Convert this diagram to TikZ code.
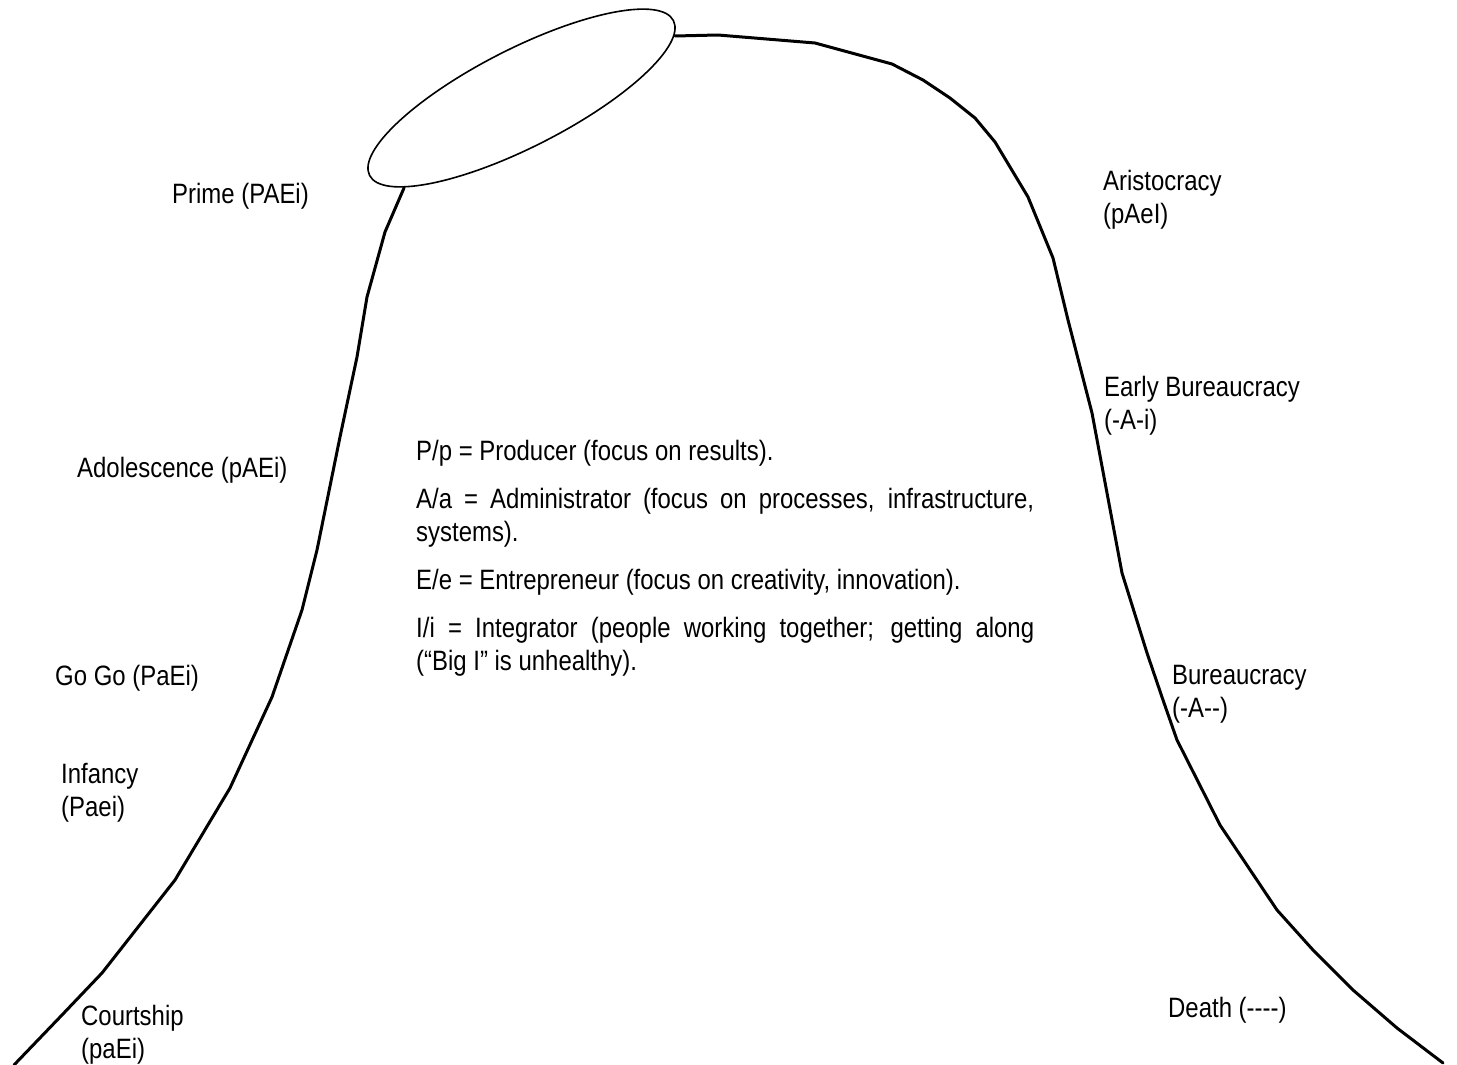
\documentclass[tikz,border=0pt]{standalone}
\usepackage{fontspec}
\setmainfont{Liberation Sans}[FakeStretch=0.855, Ligatures=TeXOff]
\begin{document}
\begin{tikzpicture}[x=1pt,y=-1pt,
  lbl/.style={anchor=west,inner sep=0pt,align=left,font=\fontsize{28}{33}\selectfont},
  curve/.style={line width=3pt,line join=round,line cap=round},
  ring/.style={line width=1.6pt}]
\useasboundingbox (0,0) rectangle (1457,1065);
% life-cycle curve
\draw[curve] (14,1065) -- (62,1015) -- (102,973) -- (175,880) -- (230,788) -- (272,697)
  -- (302,610) -- (317,550) -- (340,437) -- (357,357) -- (367,297) -- (385,232) -- (404,188);
\draw[curve] (675,36) -- (718,35) -- (815,43) -- (892,64) -- (923,80) -- (950,98)
  -- (975,118) -- (995,142) -- (1028,197) -- (1053,258) -- (1068,320) -- (1092,413)
  -- (1122,573) -- (1147,653) -- (1163,700) -- (1177,740) -- (1220,825) -- (1277,910)
  -- (1313,950) -- (1353,990) -- (1397,1028) -- (1443,1063);
% prime ellipse
\draw[ring,fill=white,rotate around={27:(521.5,98)}] (521.5,98) ellipse [x radius=170.5, y radius=49];
% stage labels
\node[lbl] (prime) at (172,196) {Prime (PAEi)};
\node[lbl] (adol) at (77,470) {Adolescence (pAEi)};
\node[lbl] (gogo) at (55,678) {Go Go (PaEi)};
\node[lbl] (inf) at (61,793) {Infancy\\(Paei)};
\node[lbl] (court) at (81,1035) {Courtship\\(paEi)};
\node[lbl] (aris) at (1103,200) {Aristocracy\\(pAeI)};
\node[lbl] (ebur) at (1104,406) {Early Bureaucracy\\(-A-i)};
\node[lbl] (bur) at (1172,694) {Bureaucracy\\(-A--)};
\node[lbl] (death) at (1168,1010) {Death (----)};
% legend
\node[anchor=north west,inner sep=0pt,text width=618pt,align=justify,
  font=\fontsize{28}{33}\selectfont] (legend) at (416,440) {%
  \hyphenpenalty=10000 \parskip=15pt
  P/p = Producer (focus on results).\par
  A/a = Administrator (focus on processes, infrastructure,\linebreak systems).\par
  E/e = Entrepreneur (focus on creativity, innovation).\par
  I/i = Integrator (people working together; getting along\linebreak (“Big I” is unhealthy).\par};
\end{tikzpicture}
\end{document}
